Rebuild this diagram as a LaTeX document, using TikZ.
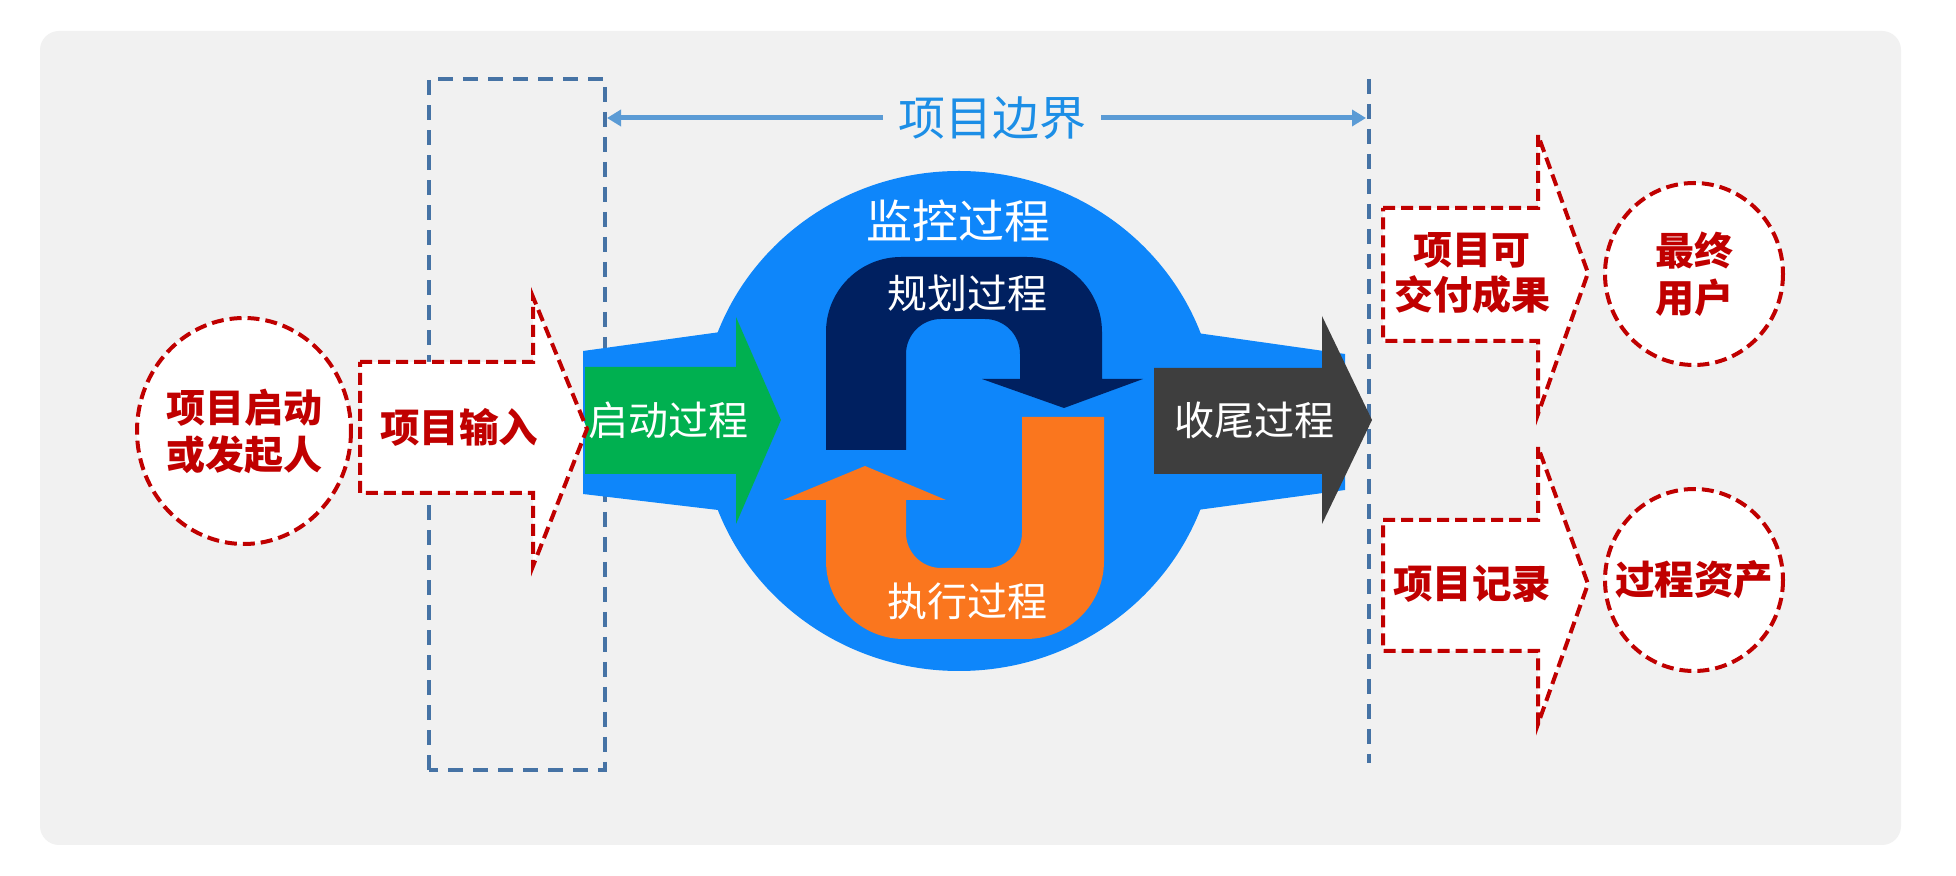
\documentclass[tikz,border=0pt]{standalone}
\usepackage{fontspec}
\newfontfamily\cjk{Noto Sans CJK SC}
\usetikzlibrary{arrows.meta}
\definecolor{bgc}{RGB}{241,241,241}
\definecolor{redc}{RGB}{192,0,0}
\definecolor{dashblue}{RGB}{70,115,165}
\definecolor{bndline}{RGB}{91,155,213}
\definecolor{bndtext}{RGB}{28,142,230}
\definecolor{bigblue}{RGB}{14,134,250}
\definecolor{greenc}{RGB}{0,176,80}
\definecolor{navyc}{RGB}{0,32,96}
\definecolor{orangec}{RGB}{250,118,30}
\definecolor{grayc}{RGB}{62,62,62}
\begin{document}
\begin{tikzpicture}[x=0.5pt,y=-0.5pt,
  reddash/.style={draw=redc, line width=2pt, dash pattern=on 6pt off 3pt, fill=white},
  bluedash/.style={draw=dashblue, line width=1.75pt, dash pattern=on 7.5pt off 5pt},
  redtext/.style={text=redc, font=\cjk\bfseries\fontsize{19.75}{23}\selectfont, align=center, inner sep=0pt},
  whitetext/.style={text=white, font=\cjk\fontsize{20}{24}\selectfont, inner sep=0pt},
]
\useasboundingbox (0,0) rectangle (1956,876);
\fill[white] (0,0) rectangle (1956,876);
\fill[bgc, rounded corners=9.5pt] (40,31) rectangle (1901,845);

% dashed boundaries
\draw[bluedash] (429,770) -- (429,79) -- (605,79) -- (605,770) -- cycle;
\draw[bluedash] (1369,79) -- (1369,763);

% project boundary arrow
\node[text=bndtext, font=\cjk\fontsize{23.5}{28}\selectfont, inner xsep=7.5pt, inner ysep=0pt] (bnd) at (992,118) {项目边界};
\coordinate (bL) at (607,118);
\coordinate (bR) at (1366,118);
\draw[bndline, line width=2.5pt, -{Triangle[length=7pt,width=8pt]}] (bnd.west) -- (bL);
\draw[bndline, line width=2.5pt, -{Triangle[length=7pt,width=8pt]}] (bnd.east) -- (bR);

% big blue monitoring shape
\fill[bigblue] (959,421) ellipse [x radius=258, y radius=250];
\fill[bigblue] (583,351) -- (735,330) -- (735,512) -- (583,494) -- cycle;
\fill[bigblue] (1190,332) -- (1345,354) -- (1345,490) -- (1190,511) -- cycle;
\node[text=white, font=\cjk\fontsize{23}{28}\selectfont, inner sep=0pt] (monitor) at (958,221) {监控过程};

% green initiating arrow
\fill[greenc] (585,367) -- (736,367) -- (736,317) -- (781,420) -- (736,524) -- (736,474) -- (585,474) -- cycle;
\node[whitetext] (initp) at (668,420) {启动过程};

% navy planning U arrow
\fill[navyc] (826,450) -- (826,332) .. controls (826,290.6) and (859.6,257) .. (901,257)
  -- (1027,257) .. controls (1068.4,257) and (1102,290.6) .. (1102,332)
  -- (1102,379) -- (1143,379) -- (1064,408) -- (982,379) -- (1020,379)
  -- (1020,354) .. controls (1020,334.7) and (1004.3,319) .. (985,319)
  -- (941,319) .. controls (921.7,319) and (906,334.7) .. (906,354)
  -- (906,450) -- cycle;
\node[whitetext] (plan) at (967,293) {规划过程};

% orange executing U arrow
\fill[orangec] (1022,417) -- (1104,417) -- (1104,561) .. controls (1104,604) and (1069,639) .. (1026,639)
  -- (904,639) .. controls (861,639) and (826,604) .. (826,561)
  -- (826,500) -- (783,500) -- (865,466) -- (946,500) -- (906,500)
  -- (906,533) .. controls (906,552.3) and (921.7,568) .. (941,568)
  -- (987,568) .. controls (1006.3,568) and (1022,552.3) .. (1022,533) -- cycle;
\node[whitetext] (exec) at (967,601) {执行过程};

% gray closing arrow
\fill[grayc] (1154,368) -- (1322,368) -- (1322,316) -- (1372,420) -- (1322,524) -- (1322,474) -- (1154,474) -- cycle;
\node[whitetext] (close) at (1254,420) {收尾过程};

% left: initiator and input
\draw[reddash] (244,431) ellipse [x radius=107, y radius=113];
\node[redtext, font=\cjk\bfseries\fontsize{19.5}{23.5}\selectfont] (sponsor) at (244,431) {项目启动\\或发起人};
\draw[reddash] (360,362) -- (533,362) -- (533,297) -- (587,429) -- (533,566) -- (533,493) -- (360,493) -- cycle;
\node[redtext] (input) at (459,427) {项目输入};

% right: outputs
\draw[reddash] (1383,208) -- (1538,208) -- (1538,135) -- (1588,273) -- (1538,414) -- (1538,341) -- (1383,341) -- cycle;
\node[redtext, font=\cjk\bfseries\fontsize{19.5}{22.5}\selectfont] (deliv) at (1472,273) {项目可\\交付成果};
\draw[reddash] (1383,520) -- (1538,520) -- (1538,447) -- (1588,584) -- (1538,724) -- (1538,651) -- (1383,651) -- cycle;
\node[redtext] (records) at (1472,584) {项目记录};
\draw[reddash] (1694,274) ellipse [x radius=89, y radius=91];
\node[redtext, font=\cjk\bfseries\fontsize{19.5}{23.5}\selectfont] (users) at (1694,274) {最终\\用户};
\draw[reddash] (1694,580) ellipse [x radius=89, y radius=91];
\node[redtext] (assets) at (1694,580) {过程资产};
\end{tikzpicture}
\end{document}
